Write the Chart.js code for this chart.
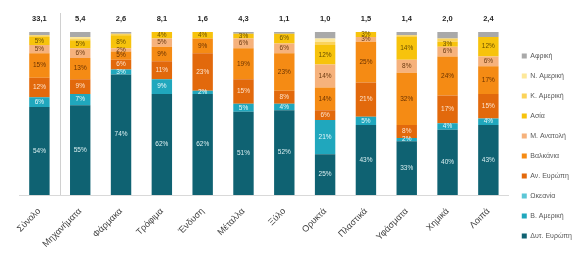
<!DOCTYPE html>
<html>
<head>
<meta charset="utf-8">
<script src="https://cdn.jsdelivr.net/npm/chart.js@4/dist/chart.umd.min.js"></script>
<style>
    html, body { margin: 0; padding: 0; background: #ffffff; }
    #wrap { width: 582px; height: 260px; }
</style>
</head>
<body>
<div id="wrap"><canvas id="myChart"></canvas></div>
<script>
// Categories and totals
let categories = ['Σύνολο', 'Μηχανήματα', 'Φάρμακα', 'Τρόφιμα', 'Ένδυση', 'Μέταλλα', 'Ξύλο', 'Ορυκτά', 'Πλαστικά', 'Υφάσματα', 'Χημικά', 'Λοιπά'];
let totals = [33.1, 5.4, 2.6, 8.1, 1.6, 4.3, 1.1, 1.0, 1.5, 1.4, 2.0, 2.4];

// Shares per region (%), bottom to top
let dytEuropi = [54, 55, 74, 62, 62, 51, 52, 25, 43, 33, 40, 43];
let bAmeriki = [6, 7, 3, 9, 2, 5, 4, 21, 5, 2, 4, 4];
let okeania = [0, 0, 0, 0, 0, 0, 0, 0, 0, 0, 0, 0];
let anEuropi = [12, 9, 6, 11, 23, 15, 8, 6, 21, 8, 17, 15];
let valkania = [15, 13, 5, 9, 9, 19, 23, 14, 25, 32, 24, 17];
let mAnatoli = [5, 6, 2, 5, 0, 6, 6, 14, 3, 8, 6, 6];
let asia = [5, 5, 8, 4, 4, 3, 6, 12, 3, 14, 3, 12];
let kAmeriki = [1, 1, 1, 0, 0, 0, 0, 2, 0, 1, 2, 0];
let nAmeriki = [0, 1, 0, 0, 0, 0, 0, 2, 0, 0, 0, 0];
let afriki = [2, 3, 1, 0, 0, 1, 1, 4, 0, 2, 4, 3];

let fontFamily = "'Liberation Sans', Arial, sans-serif";

// Series setup: label, data, colour, text colour for labels (null = no labels)
let series = [
    ['Δυτ. Ευρώπη', dytEuropi, '#0f6272', '#d9eef0'],
    ['Β. Αμερική', bAmeriki, '#20a7bd', '#e6f7fa'],
    ['Ωκεανία', okeania, '#5cc6d6', null],
    ['Αν. Ευρώπη', anEuropi, '#e2690c', '#fde3cc'],
    ['Βαλκάνια', valkania, '#f58b14', '#6b3300'],
    ['Μ. Ανατολή', mAnatoli, '#f6b27c', '#6b3a10'],
    ['Ασία', asia, '#f7c30c', '#6b4f00'],
    ['Κ. Αμερική', kAmeriki, '#fbd35a', null],
    ['Ν. Αμερική', nAmeriki, '#fde89a', null],
    ['Αφρική', afriki, '#a9a9a9', null]
];

let datasets = series.map((s) => ({
    label: s[0],
    data: s[1],
    backgroundColor: s[2],
    labelColor: s[3],
    borderWidth: 0,
    categoryPercentage: 1,
    barPercentage: 0.5
}));

// Plugin drawing segment labels, totals and the separator line
let annotate = {
    id: 'annotate',
    afterDatasetsDraw: (chart) => {
        let ctx = chart.ctx;
        let xs = chart.scales.x;
        let area = chart.chartArea;
        ctx.save();

        // separator after Σύνολο
        let sepX = Math.round((xs.getPixelForValue(0) + xs.getPixelForValue(1)) / 2) + 0.5;
        ctx.strokeStyle = '#d0d0d0';
        ctx.lineWidth = 1;
        ctx.beginPath();
        ctx.moveTo(sepX, area.top - 19);
        ctx.lineTo(sepX, area.bottom);
        ctx.stroke();

        // segment labels
        ctx.font = '6.5px ' + fontFamily;
        ctx.textAlign = 'center';
        ctx.textBaseline = 'middle';
        chart.data.datasets.forEach((ds, i) => {
            if (!ds.labelColor) return;
            let meta = chart.getDatasetMeta(i);
            meta.data.forEach((bar, j) => {
                let v = ds.data[j];
                if (v < 2) return;
                ctx.fillStyle = ds.labelColor;
                ctx.fillText(v + '%', bar.x, (bar.y + bar.base) / 2);
            });
        });

        // totals above bars
        ctx.font = 'bold 7.5px ' + fontFamily;
        ctx.fillStyle = '#262626';
        totals.forEach((t, j) => {
            ctx.fillText(t.toFixed(1).replace('.', ','), xs.getPixelForValue(j), area.top - 13);
        });
        ctx.restore();
    }
};

let chart = new Chart(document.getElementById('myChart').getContext('2d'), {
    type: 'bar',
    data: {
        labels: categories,
        datasets: datasets
    },
    options: {
        responsive: true,
        maintainAspectRatio: false,
        animation: false,
        layout: { padding: { top: 32, left: 19, right: 0, bottom: 0 } },
        plugins: {
            tooltip: { enabled: false },
            legend: {
                position: 'right',
                reverse: true,
                labels: {
                    boxWidth: 5,
                    boxHeight: 5,
                    padding: 13,
                    color: '#595959',
                    font: { size: 7, family: fontFamily }
                }
            }
        },
        scales: {
            x: {
                stacked: true,
                offset: true,
                grid: { display: false },
                border: { color: '#d9d9d9' },
                ticks: {
                    minRotation: 45,
                    maxRotation: 45,
                    color: '#404040',
                    font: { size: 9, family: fontFamily }
                },
                afterFit: (scale) => { scale.height = 65; }
            },
            y: {
                stacked: true,
                display: false,
                min: 0,
                max: 100
            }
        }
    },
    plugins: [annotate]
});
</script>
</body>
</html>
